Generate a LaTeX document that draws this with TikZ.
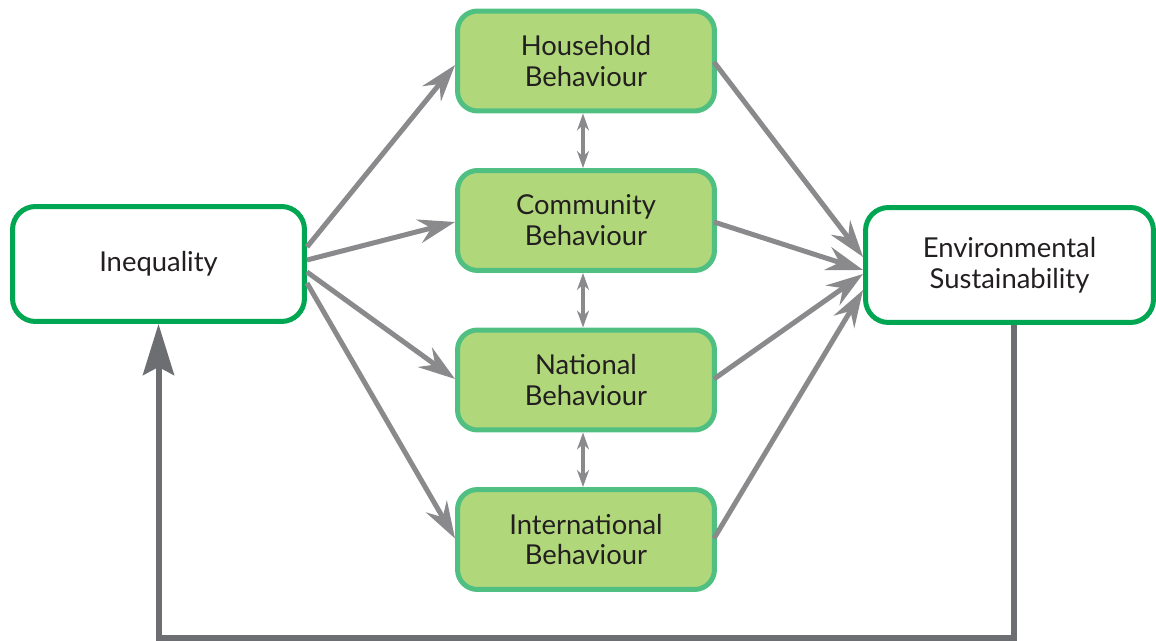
\documentclass[tikz,border=0pt]{standalone}
\usepackage{fontspec}
\setmainfont{Lato}
\usetikzlibrary{arrows.meta}

\definecolor{leafgreen}{RGB}{176,216,122}
\definecolor{mintedge}{RGB}{80,192,130}
\definecolor{deepgreen}{RGB}{0,166,81}
\definecolor{linkgray}{RGB}{138,138,140}
\definecolor{loopgray}{RGB}{109,110,113}
\definecolor{inkblack}{RGB}{35,31,32}

\begin{document}
\begin{tikzpicture}[x=0.02cm,y=-0.02cm,
  boxtext/.style={align=center,inner sep=0pt,text=inkblack,font=\fontsize{15.6}{17.6}\selectfont},
  outerbox/.style={boxtext,draw=deepgreen,fill=white,line width=0.1cm,rounded corners=0.46cm,
    minimum width=5.84cm,minimum height=2.3cm},
  actbox/.style={boxtext,draw=mintedge,fill=leafgreen,line width=0.1cm,rounded corners=0.4cm,
    minimum width=5.14cm,minimum height=2cm},
  link/.style={linkgray,line width=0.1cm,-{Stealth[length=0.74cm,width=0.48cm,inset=0.25cm]}},
  duo/.style={linkgray,line width=0.08cm,{Stealth[length=0.34cm,width=0.24cm]}-{Stealth[length=0.34cm,width=0.24cm]}},
  feedback/.style={loopgray,line width=0.12cm,-{Stealth[length=1.02cm,width=0.62cm,inset=0.16cm]}}]
\useasboundingbox (0,0) rectangle (1156,641);

\node[outerbox] (ineq) at (158.5,264) {Inequality};
\node[outerbox,minimum width=5.76cm] (env) at (1009.5,265) {Environmental\\Sustainability};

\node[actbox] (house) at (586,61) {Household\\Behaviour};
\node[actbox] (comm) at (586,220.5) {Community\\Behaviour};
\node[actbox] (nat) at (586,380) {National\\Behaviour};
\node[actbox] (intl) at (586,539.5) {International\\Behaviour};

% inequality fans out to the four levels
\draw[link] ([yshift=0.34cm]ineq.east) -- ([yshift=-0.08cm]house.west);
\draw[link] ([yshift=0.08cm]ineq.east) -- ([yshift=-0.03cm]comm.west);
\draw[link] ([yshift=-0.16cm]ineq.east) -- ([yshift=0.02cm]nat.west);
\draw[link] ([yshift=-0.38cm]ineq.east) -- ([yshift=0.02cm]intl.west);

% levels feed into sustainability
\draw[link] ([xshift=-0.06cm,yshift=-0.02cm]house.east) -- ([yshift=0.16cm]env.west);
\draw[link] ([xshift=-0.06cm,yshift=-0.03cm]comm.east) -- ([yshift=-0.1cm]env.west);
\draw[link] ([xshift=-0.06cm,yshift=0.02cm]nat.east) -- ([yshift=-0.18cm]env.west);
\draw[link] ([xshift=-0.06cm,yshift=0.02cm]intl.east) -- ([yshift=-0.5cm]env.west);

% links between neighbouring levels
\draw[duo] ([xshift=-0.06cm]house.south) -- ([xshift=-0.06cm]comm.north);
\draw[duo] ([xshift=-0.06cm]comm.south) -- ([xshift=-0.06cm]nat.north);
\draw[duo] ([xshift=-0.06cm]nat.south) -- ([xshift=-0.06cm]intl.north);

% loop back
\draw[feedback] ([xshift=0.08cm]env.south) -- ++(0,313) -| (ineq.south);
\end{tikzpicture}
\end{document}
